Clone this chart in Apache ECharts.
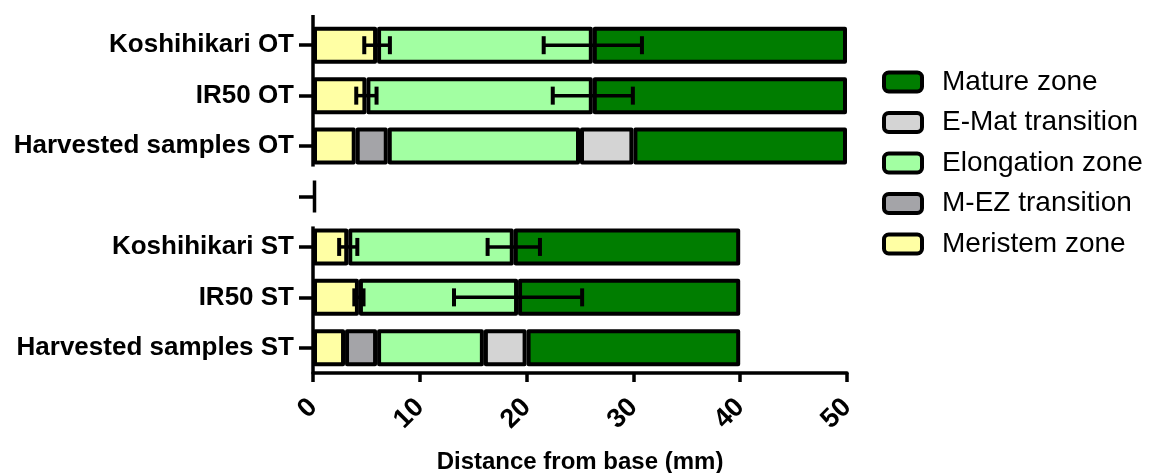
<!DOCTYPE html>
<html>
<head>
<meta charset="utf-8">
<script src="https://cdn.jsdelivr.net/npm/echarts@6/dist/echarts.min.js"></script>
<style>
  html, body { margin: 0; padding: 0; background: #fff; }
  #chart { width: 1151px; height: 473px; }
</style>
</head>
<body>
<div id="chart"></div>
<script>
// Root zone lengths (mm) along the root, stacked from the base.
const categories = ['Koshihikari OT', 'IR50 OT', 'Harvested samples OT', '', 'Koshihikari ST', 'IR50 ST', 'Harvested samples ST'];
const meristem       = [6.0, 5.0, 4, '-', 3.3, 4.3, 3];
const mezTransition  = ['-', '-', 3, '-', '-', '-', 3];
const elongation     = [20.2, 21.2, 18, '-', 15.5, 14.9, 10];
const ematTransition = ['-', '-', 5, '-', '-', '-', 4];
const mature         = [23.8, 23.8, 20, '-', 21.2, 20.8, 20];
// Error (mm) of the meristem end and the elongation zone end
const meristemErr    = [1.2, 0.95, null, null, 0.85, 0.43, null];
const elongationErr  = [4.6, 3.75, null, null, 2.45, 6.0, null];
const xTicks = { min: 0, max: 50, interval: 10 };

const seriesNames = ['Meristem zone', 'M-EZ transition', 'Elongation zone', 'E-Mat transition', 'Mature zone'];
const seriesColors = ['#ffffa4', '#a4a4a8', '#a2ffa2', '#d4d4d4', '#007d00'];
const seriesData = [meristem, mezTransition, elongation, ematTransition, mature];

const num = v => (typeof v === 'number' ? v : 0);

// Error bar centres sit at the cumulative boundary of each zone
const errorPoints = [];
categories.forEach((c, i) => {
  const mEnd = num(meristem[i]);
  const eEnd = mEnd + num(mezTransition[i]) + num(elongation[i]);
  if (meristemErr[i] != null) errorPoints.push([i, mEnd, meristemErr[i]]);
  if (elongationErr[i] != null) errorPoints.push([i, eEnd, elongationErr[i]]);
});

const FONT = '"Liberation Sans", Arial, Helvetica, sans-serif';
const BORDER = 4;
const BAR_W = 37;

const barSeries = seriesNames.map((name, k) => ({
  name: name,
  type: 'bar',
  stack: 'root',
  barWidth: BAR_W,
  data: seriesData[k],
  itemStyle: { color: seriesColors[k], borderColor: '#000', borderWidth: BORDER, borderJoin: 'round' },
  emphasis: { disabled: true },
  z: 3
}));

// Error bars with caps
const errorSeries = {
  type: 'custom',
  name: 'err',
  data: errorPoints,
  z: 5,
  clip: false,
  encode: { x: [1], y: [0] },
  renderItem: function (params, api) {
    const ci = api.value(0), c = api.value(1), e = api.value(2);
    const p0 = api.coord([c - e, ci]);
    const p1 = api.coord([c + e, ci]);
    const capH = 9;
    const st = { stroke: '#000', lineWidth: 4, fill: null };
    return {
      type: 'group',
      children: [
        { type: 'line', shape: { x1: p0[0], y1: p0[1], x2: p1[0], y2: p1[1] }, style: { stroke: '#000', lineWidth: 3.5 } },
        { type: 'line', shape: { x1: p0[0], y1: p0[1] - capH, x2: p0[0], y2: p0[1] + capH }, style: st },
        { type: 'line', shape: { x1: p1[0], y1: p1[1] - capH, x2: p1[0], y2: p1[1] + capH }, style: st }
      ]
    };
  }
};

// Segmented category axis line (OT group, spacer, ST group)
const axisSeries = {
  type: 'custom',
  name: 'axisSegments',
  data: [[0, 0]],
  z: 2,
  clip: false,
  silent: true,
  renderItem: function (params, api) {
    const band = api.size([0, 1])[1];
    const half = BAR_W / 2 + BORDER / 2;
    const x = api.coord([0, 0])[0];
    const yA0 = api.coord([0, 0])[1] - band / 2 - 5;
    const yA1 = api.coord([0, 2])[1] + half;
    const yB = api.coord([0, 3])[1];
    const yC0 = api.coord([0, 4])[1] - half;
    const yC1 = api.coord([0, 6])[1] + band / 2;
    const st = { stroke: '#000', lineWidth: 3.5 };
    return {
      type: 'group',
      children: [
        { type: 'line', shape: { x1: x, y1: yA0, x2: x, y2: yA1 }, style: st },
        { type: 'line', shape: { x1: x + 1.5, y1: yB - 16, x2: x + 1.5, y2: yB + 16 }, style: st },
        { type: 'line', shape: { x1: x, y1: yC0, x2: x, y2: yC1 }, style: st }
      ]
    };
  }
};

const chart = echarts.init(document.getElementById('chart'), null, { renderer: 'canvas' });
chart.setOption({
  animation: false,
  backgroundColor: '#fff',
  textStyle: { fontFamily: FONT },
  grid: { left: 313, right: 304, top: 20, bottom: 100, containLabel: false, outerBoundsMode: 'none' },
  legend: {
    orient: 'vertical',
    left: 882,
    top: 67,
    padding: 0,
    itemGap: 10.5,
    itemWidth: 38,
    itemHeight: 19,
    icon: 'roundRect',
    selectedMode: false,
    data: ['Mature zone', 'E-Mat transition', 'Elongation zone', 'M-EZ transition', 'Meristem zone'],
    itemStyle: { borderColor: '#000', borderWidth: BORDER },
    textStyle: { fontFamily: FONT, fontSize: 28, color: '#000', lineHeight: 30, padding: [0, 0, 0, 15] }
  },
  xAxis: {
    type: 'value',
    min: xTicks.min,
    max: xTicks.max,
    interval: xTicks.interval,
    name: 'Distance from base (mm)',
    nameLocation: 'middle',
    nameGap: 77,
    nameTextStyle: { fontFamily: FONT, fontSize: 24, fontWeight: 'bold', color: '#000' },
    axisLine: { show: true, lineStyle: { color: '#000', width: 3.5 } },
    axisTick: { show: true, length: 9, lineStyle: { color: '#000', width: 3.5 } },
    axisLabel: { rotate: 45, margin: 30, fontFamily: FONT, fontSize: 27, fontWeight: 'bold', color: '#000' },
    splitLine: { show: false }
  },
  yAxis: {
    type: 'category',
    inverse: true,
    data: categories,
    axisLine: { show: false },
    axisTick: { show: true, alignWithLabel: true, length: 14, lineStyle: { color: '#000', width: 3.5 } },
    axisLabel: { margin: 19, fontFamily: FONT, fontSize: 26, fontWeight: 'bold', color: '#000' },
    splitLine: { show: false }
  },
  series: [axisSeries].concat(barSeries, [errorSeries])
});
</script>
</body>
</html>
